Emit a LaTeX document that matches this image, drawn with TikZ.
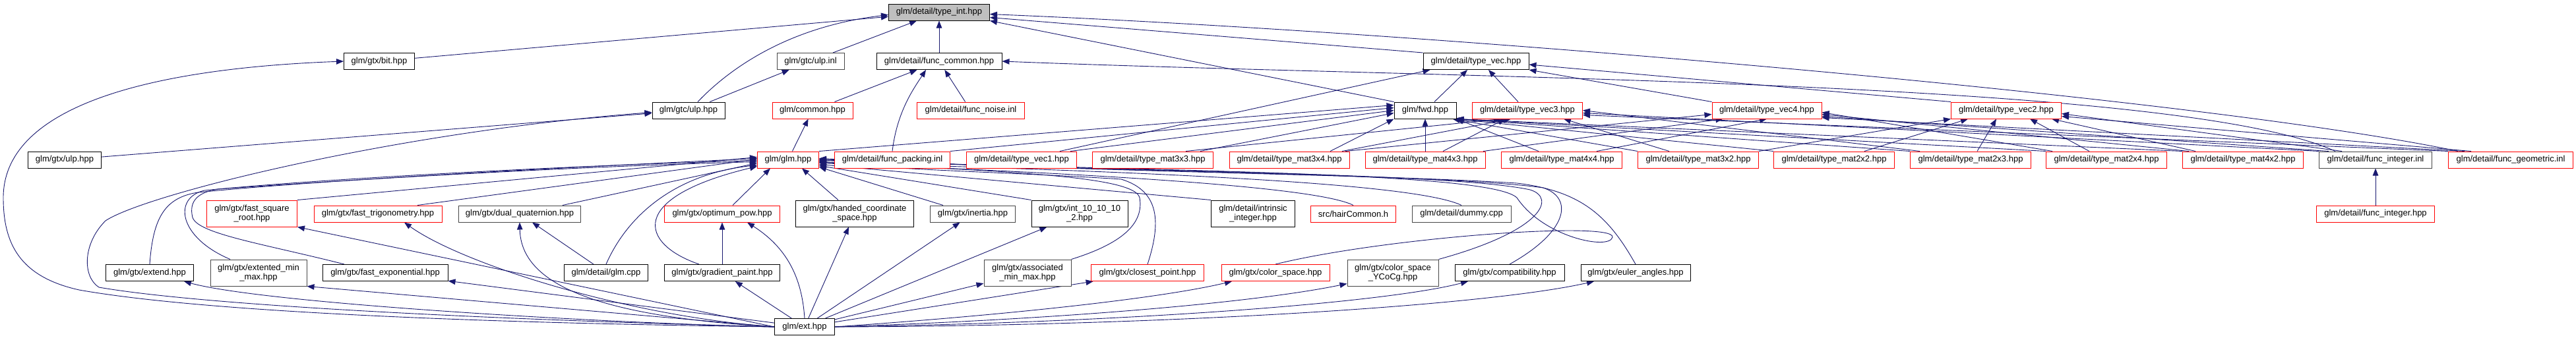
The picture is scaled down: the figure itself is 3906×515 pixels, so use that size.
\documentclass[tikz,border=0pt]{standalone}
\usepackage{fontspec}
\setmainfont{Liberation Sans}
\usetikzlibrary{arrows.meta}
\definecolor{edgeblue}{RGB}{25,25,112}
\definecolor{boxred}{RGB}{255,0,0}
\definecolor{boxgray}{RGB}{70,70,70}
\definecolor{intfill}{RGB}{191,191,191}
\newcommand\nodefont{\fontsize{13}{14}\selectfont}
\pgfdeclarelayer{bg}
\pgfsetlayers{bg,main}
\tikzset{
  nd/.style={draw, line width=1pt, fill=white, minimum height=25pt, inner xsep=2pt, inner ysep=0pt, font=\nodefont, align=center},
  two/.style={minimum height=40pt},
  rd/.style={nd, draw=boxred},
  bk/.style={nd, draw=black},
  gy/.style={nd, draw=boxgray},
  dep/.style={draw=edgeblue, line width=0.9pt, -{Triangle[length=11pt,width=8.5pt]}},
}
\begin{document}
\begin{tikzpicture}[x=1pt,y=-1pt]
\useasboundingbox (0,0) rectangle (3906,515);
% ---------- nodes ----------
\node[bk, fill=intfill, minimum width=153pt] (typeInt) at (1424,18.5) {glm/detail/type\_int.hpp};
% row 1
\node[bk, minimum width=107pt] (bit) at (575,93) {glm/gtx/bit.hpp};
\node[gy, minimum width=102pt] (ulpInl) at (1229,93) {glm/gtc/ulp.inl};
\node[bk, minimum width=190pt] (funcCommon) at (1424,93) {glm/detail/func\_common.hpp};
\node[bk, minimum width=160pt] (typeVec) at (2238,93) {glm/detail/type\_vec.hpp};
% row 2
\node[bk, minimum width=110pt] (ulpHpp) at (1044,167.5) {glm/gtc/ulp.hpp};
\node[rd, minimum width=122pt] (common) at (1232,167.5) {glm/common.hpp};
\node[rd, minimum width=163pt] (noise) at (1472,167.5) {glm/detail/func\_noise.inl};
\node[bk, minimum width=94pt] (fwd) at (2161,167.5) {glm/fwd.hpp};
\node[rd, minimum width=167pt] (vecC) at (2316,167.5) {glm/detail/type\_vec3.hpp};
\node[rd, minimum width=166pt] (vecD) at (2679,167.5) {glm/detail/type\_vec4.hpp};
\node[rd, minimum width=167pt] (vecB) at (3042,167.5) {glm/detail/type\_vec2.hpp};
% row 3
\node[bk, minimum width=111pt] (gtxUlp) at (98,242.5) {glm/gtx/ulp.hpp};
\node[rd, minimum width=93pt] (glm) at (1195,242.5) {glm/glm.hpp};
\node[rd, minimum width=175pt] (packing) at (1353,242.5) {glm/detail/func\_packing.inl};
\node[rd, minimum width=167pt] (vecA) at (1549,242.5) {glm/detail/type\_vec1.hpp};
\node[rd, minimum width=183pt] (mCC) at (1748,242.5) {glm/detail/type\_mat3x3.hpp};
\node[rd, minimum width=182pt] (mCD) at (1955,242.5) {glm/detail/type\_mat3x4.hpp};
\node[rd, minimum width=182pt] (mDC) at (2161,242.5) {glm/detail/type\_mat4x3.hpp};
\node[rd, minimum width=183pt] (mDD) at (2368,242.5) {glm/detail/type\_mat4x4.hpp};
\node[rd, minimum width=183pt] (mCB) at (2575,242.5) {glm/detail/type\_mat3x2.hpp};
\node[rd, minimum width=183pt] (mBB) at (2781,242.5) {glm/detail/type\_mat2x2.hpp};
\node[rd, minimum width=183pt] (mBC) at (2988,242.5) {glm/detail/type\_mat2x3.hpp};
\node[rd, minimum width=183pt] (mBD) at (3194,242.5) {glm/detail/type\_mat2x4.hpp};
\node[rd, minimum width=183pt] (mDB) at (3401,242.5) {glm/detail/type\_mat4x2.hpp};
\node[gy, minimum width=171pt] (intInl) at (3602,242.5) {glm/detail/func\_integer.inl};
\node[rd, minimum width=189pt] (geo) at (3807,242.5) {glm/detail/func\_geometric.inl};
% row 4
\node[rd, two, minimum width=137pt] (fastSqrt) at (382,324) {glm/gtx/fast\_square\\\_root.hpp};
\node[rd, minimum width=194pt] (fastTrig) at (573,324.5) {glm/gtx/fast\_trigonometry.hpp};
\node[gy, minimum width=185pt] (dualQuat) at (788,324.5) {glm/gtx/dual\_quaternion.hpp};
\node[rd, minimum width=175pt] (optPow) at (1095,324.5) {glm/gtx/optimum\_pow.hpp};
\node[bk, two, minimum width=179pt] (handed) at (1296,324) {glm/gtx/handed\_coordinate\\\_space.hpp};
\node[gy, minimum width=129pt] (inertia) at (1475,324.5) {glm/gtx/inertia.hpp};
\node[bk, two, minimum width=146pt] (intTen) at (1637,324) {glm/gtx/int\_10\_10\_10\\\_2.hpp};
\node[bk, two, minimum width=127pt] (intrinsic) at (1900,324) {glm/detail/intrinsic\\\_integer.hpp};
\node[rd, minimum width=129pt] (hair) at (2052,324.5) {src/hairCommon.h};
\node[gy, minimum width=150pt] (dummy) at (2216,324.5) {glm/detail/dummy.cpp};
\node[rd, minimum width=179pt] (intHpp) at (3602,324.5) {glm/detail/func\_integer.hpp};
% row 5
\node[bk, minimum width=133pt] (extend) at (227,414) {glm/gtx/extend.hpp};
\node[gy, two, minimum width=146pt] (extMM) at (392,414) {glm/gtx/extented\_min\\\_max.hpp};
\node[bk, minimum width=190pt] (fastExp) at (584,414) {glm/gtx/fast\_exponential.hpp};
\node[bk, minimum width=127pt] (glmCpp) at (919,414) {glm/detail/glm.cpp};
\node[bk, minimum width=175pt] (gradient) at (1095,414) {glm/gtx/gradient\_paint.hpp};
\node[gy, two, minimum width=132pt] (assoc) at (1558,414) {glm/gtx/associated\\\_min\_max.hpp};
\node[rd, minimum width=171pt] (closest) at (1740,414) {glm/gtx/closest\_point.hpp};
\node[rd, minimum width=164pt] (colorSpace) at (1934,414) {glm/gtx/color\_space.hpp};
\node[gy, two, minimum width=138pt] (ycocg) at (2112,414) {glm/gtx/color\_space\\\_YCoCg.hpp};
\node[bk, minimum width=166pt] (compat) at (2289,414) {glm/gtx/compatibility.hpp};
\node[bk, minimum width=166pt] (euler) at (2480,414) {glm/gtx/euler\_angles.hpp};
% row 6
\node[bk, minimum width=91pt] (ext) at (1220,496) {glm/ext.hpp};
% ---------- edges ----------
\begin{pgfonlayer}{bg}
\fill[white] (0,0) rectangle (3906,515);
% into type_int
\draw[dep] (bit) -- (typeInt);
\draw[dep] ([xshift=14pt]ulpHpp.north) .. controls (1110,100) and (1200,40) .. ([yshift=-4pt]typeInt.west);
\draw[dep] (ulpInl) -- (typeInt);
\draw[dep] (funcCommon) -- (typeInt);
\draw[dep] (typeVec.north west) -- ([yshift=-8pt]typeInt.east);
\draw[dep] (fwd.north west) -- (typeInt.south east);
\draw[dep] ([xshift=15pt]geo.north west) .. controls (3350,150) and (2200,50) .. ([yshift=-3pt]typeInt.east);
% upper left
\draw[dep] (ulpHpp) -- (ulpInl);
\draw[dep] (gtxUlp) -- (ulpHpp);
\draw[dep] (common) -- (funcCommon);
\draw[dep] (noise) -- (funcCommon);
\draw[dep] (packing.north) .. controls (1360,170) and (1385,135) .. ([xshift=-20pt]funcCommon.south);
\draw[dep] ([xshift=25pt]intInl.north west) .. controls (3300,120) and (2200,120) .. (funcCommon.east);
\draw[dep] (glm) -- (common);
% into type_vec
\draw[dep] ([xshift=14pt]fwd.north) -- ([xshift=-13pt]typeVec.south);
\draw[dep] ([xshift=-14pt]vecC.north) -- ([xshift=19pt]typeVec.south);
\draw[dep] (vecD.north west) -- (typeVec.south east);
\draw[dep] (vecB.north west) -- ([yshift=-5pt]typeVec.east);
\draw[dep] ([xshift=58pt]vecA.north) -- ([xshift=11pt]typeVec.south west);
% into fwd
\draw[dep] (glm.north east) -- ([yshift=8pt]fwd.west);
\draw[dep] (packing.north east) -- ([yshift=4pt]fwd.west);
\draw[dep] ([xshift=-10pt]vecA.north east) -- (fwd.west);
\draw[dep] ([xshift=-20pt]mCC.north east) -- ([yshift=-4pt]fwd.west);
\draw[dep] ([xshift=62pt]mCD.north) -- (fwd.south west);
\draw[dep] (mDC.north) -- (fwd.south);
\draw[dep] ([xshift=-35pt]mDD.north) -- (fwd.south east);
\draw[dep] (mCB.north west) -- ([xshift=-6pt]fwd.south east);
\draw[dep] (mBB.north west) -- ([xshift=-3pt]fwd.south east);
\draw[dep] (mBC.north west) -- (fwd.south east);
\draw[dep] (mBD.north west) -- (fwd.south east);
\draw[dep] (mDB.north west) -- (fwd.south east);
% into type_vec3
\draw[dep] ([xshift=50pt]mCC.north) -- ([xshift=-40pt]vecC.south);
\draw[dep] ([xshift=80pt]mCD.north) -- ([xshift=-25pt]vecC.south);
\draw[dep] ([xshift=27pt]mDC.north) -- ([xshift=-34pt]vecC.south);
\draw[dep] ([xshift=-44pt]mCB.north) -- ([xshift=55pt]vecC.south);
\draw[dep] ([xshift=15pt]mBC.north west) -- (vecC.east);
\draw[dep] (intInl.north west) -- ([yshift=-4pt]vecC.east);
\draw[dep] (geo.north west) -- ([yshift=-7pt]vecC.east);
% into type_vec4
\draw[dep] ([xshift=85pt]mCD.north) -- ([yshift=-6pt]vecD.west);
\draw[dep] ([xshift=88pt]mDC.north) -- ([xshift=17pt]vecD.south west);
\draw[dep] ([xshift=53pt]mDD.north) -- (vecD.south);
\draw[dep] ([xshift=10pt]mBD.north west) -- ([yshift=-3pt]vecD.east);
\draw[dep] ([xshift=10pt]mDB.north west) -- ([yshift=-6pt]vecD.east);
\draw[dep] ([xshift=15pt]intInl.north west) -- ([yshift=-9pt]vecD.east);
\draw[dep] ([xshift=25pt]geo.north west) -- ([yshift=-11pt]vecD.east);
% into type_vec2
\draw[dep] (mCB.north east) -- (vecB.south west);
\draw[dep] ([xshift=46pt]mBB.north) -- ([xshift=26pt]vecB.south west);
\draw[dep] ([xshift=10pt]mBC.north) -- ([xshift=-15pt]vecB.south);
\draw[dep] ([xshift=-26pt]mBD.north) -- ([xshift=36pt]vecB.south);
\draw[dep] ([xshift=20pt]mDB.north west) -- ([xshift=-15pt]vecB.south east);
\draw[dep] ([xshift=35pt]intInl.north west) -- ([yshift=-5pt]vecB.east);
\draw[dep] ([xshift=35pt]geo.north west) -- ([yshift=-9pt]vecB.east);
% into glm.hpp from the left
\draw[dep] (fastSqrt.north east) -- ([yshift=4pt]glm.west);
\draw[dep] ([xshift=60pt]fastTrig.north) -- ([yshift=1pt]glm.west);
\draw[dep] ([xshift=65pt]dualQuat.north) -- ([yshift=-5pt]glm.west);
\draw[dep] (extend.north) .. controls (232,330) and (250,300) .. (300,292) .. controls (500,272) and (900,252) .. ([yshift=2pt]glm.west);
\draw[dep] ([xshift=-43pt]extMM.north) .. controls (270,360) and (262,300) .. (310,289) .. controls (500,270) and (900,250) .. ([yshift=-1pt]glm.west);
\draw[dep] ([xshift=-62pt]fastExp.north) .. controls (400,370) and (300,355) .. (292,330) .. controls (286,305) and (300,292) .. (330,287) .. controls (600,268) and (900,252) .. ([yshift=-3pt]glm.west);
\draw[dep] (glmCpp.north) .. controls (950,330) and (1020,265) .. ([yshift=-8pt]glm.west);
\draw[dep] ([xshift=-35pt]gradient.north) .. controls (970,370) and (950,300) .. ([yshift=-10pt]glm.west);
\draw[dep] ([xshift=16pt]optPow.north) -- ([xshift=-27pt]glm.south);
\draw[dep] ([xshift=-25pt]handed.north) -- ([xshift=21pt]glm.south);
% into glm.hpp from the right
\draw[dep] ([xshift=-45pt]inertia.north) -- ([yshift=2pt]glm.south east);
\draw[dep] (intTen.north west) -- ([yshift=4pt]glm.south east);
\draw[dep] (intrinsic.north west) -- ([yshift=6pt]glm.south east);
\draw[dep] (hair.north) .. controls (2000,285) and (1700,265) .. ([yshift=8pt]glm.south east);
\draw[dep] (dummy.north) .. controls (2150,280) and (1800,262) .. ([yshift=9pt]glm.south east);
\draw[dep] (assoc.north east) .. controls (1700,370) and (1735,340) .. (1728,300) .. controls (1720,265) and (1500,260) .. ([yshift=10pt]glm.south east);
\draw[dep] (closest.north) .. controls (1760,340) and (1760,290) .. (1700,272) .. controls (1550,262) and (1350,258) .. ([yshift=11pt]glm.south east);
\draw[dep] (colorSpace.north) .. controls (2100,360) and (2450,335) .. (2445,360) .. controls (2440,380) and (2340,360) .. (2300,300) .. controls (2260,262) and (1800,260) .. ([yshift=12pt]glm.south east);
\draw[dep] (ycocg.north east) .. controls (2340,350) and (2360,300) .. (2320,288) .. controls (2200,262) and (1700,260) .. ([yshift=13pt]glm.south east);
\draw[dep] (compat.north) .. controls (2380,350) and (2385,300) .. (2340,285) .. controls (2200,265) and (1700,261) .. ([yshift=14pt]glm.south east);
\draw[dep] (euler.north) .. controls (2440,330) and (2400,290) .. (2300,278) .. controls (2100,265) and (1700,262) .. ([yshift=15pt]glm.south east);
% small local edges
\draw[dep] (glmCpp) -- (dualQuat);
\draw[dep] (gradient) -- (optPow);
\draw[dep] (intHpp) -- (intInl);
% from ext.hpp
\draw[dep] (ext.west) .. controls (700,490) and (300,472) .. (120,440) .. controls (30,420) and (5,370) .. (5,300) .. controls (5,170) and (200,105) .. (bit.west);
\draw[dep] (ext.west) .. controls (700,484) and (300,462) .. (150,436) .. controls (125,420) and (125,370) .. (160,335) .. controls (220,295) and (600,200) .. ([yshift=-3pt]ulpHpp.west);
\draw[dep] (ext.west) .. controls (900,490) and (400,460) .. ([xshift=-15pt]extend.south east);
\draw[dep] (ext.west) -- (extMM.south east);
\draw[dep] (ext) -- (fastExp);
\draw[dep] (ext.west) -- (fastSqrt.south east);
\draw[dep] (ext.west) .. controls (950,480) and (700,400) .. ([xshift=40pt]fastTrig.south);
\draw[dep] (ext.west) .. controls (900,480) and (790,430) .. (dualQuat.south);
\draw[dep] (ext.north) .. controls (1216,420) and (1192,375) .. ([xshift=38pt]optPow.south);
\draw[dep] (ext) -- (gradient);
\draw[dep] (ext) -- (handed);
\draw[dep] (ext) -- (inertia);
\draw[dep] (ext) -- (intTen);
\draw[dep] (ext) -- (assoc);
\draw[dep] (ext) -- (closest);
\draw[dep] (ext.east) .. controls (1500,480) and (1750,455) .. ([xshift=-66pt]colorSpace.south);
\draw[dep] (ext.east) .. controls (1600,485) and (1900,460) .. ([yshift=4pt]ycocg.south west);
\draw[dep] (ext.east) .. controls (1700,490) and (2100,460) .. ([xshift=-63pt]compat.south);
\draw[dep] (ext.east) .. controls (1750,495) and (2250,465) .. ([xshift=-63pt]euler.south);
\end{pgfonlayer}
\end{tikzpicture}
\end{document}
